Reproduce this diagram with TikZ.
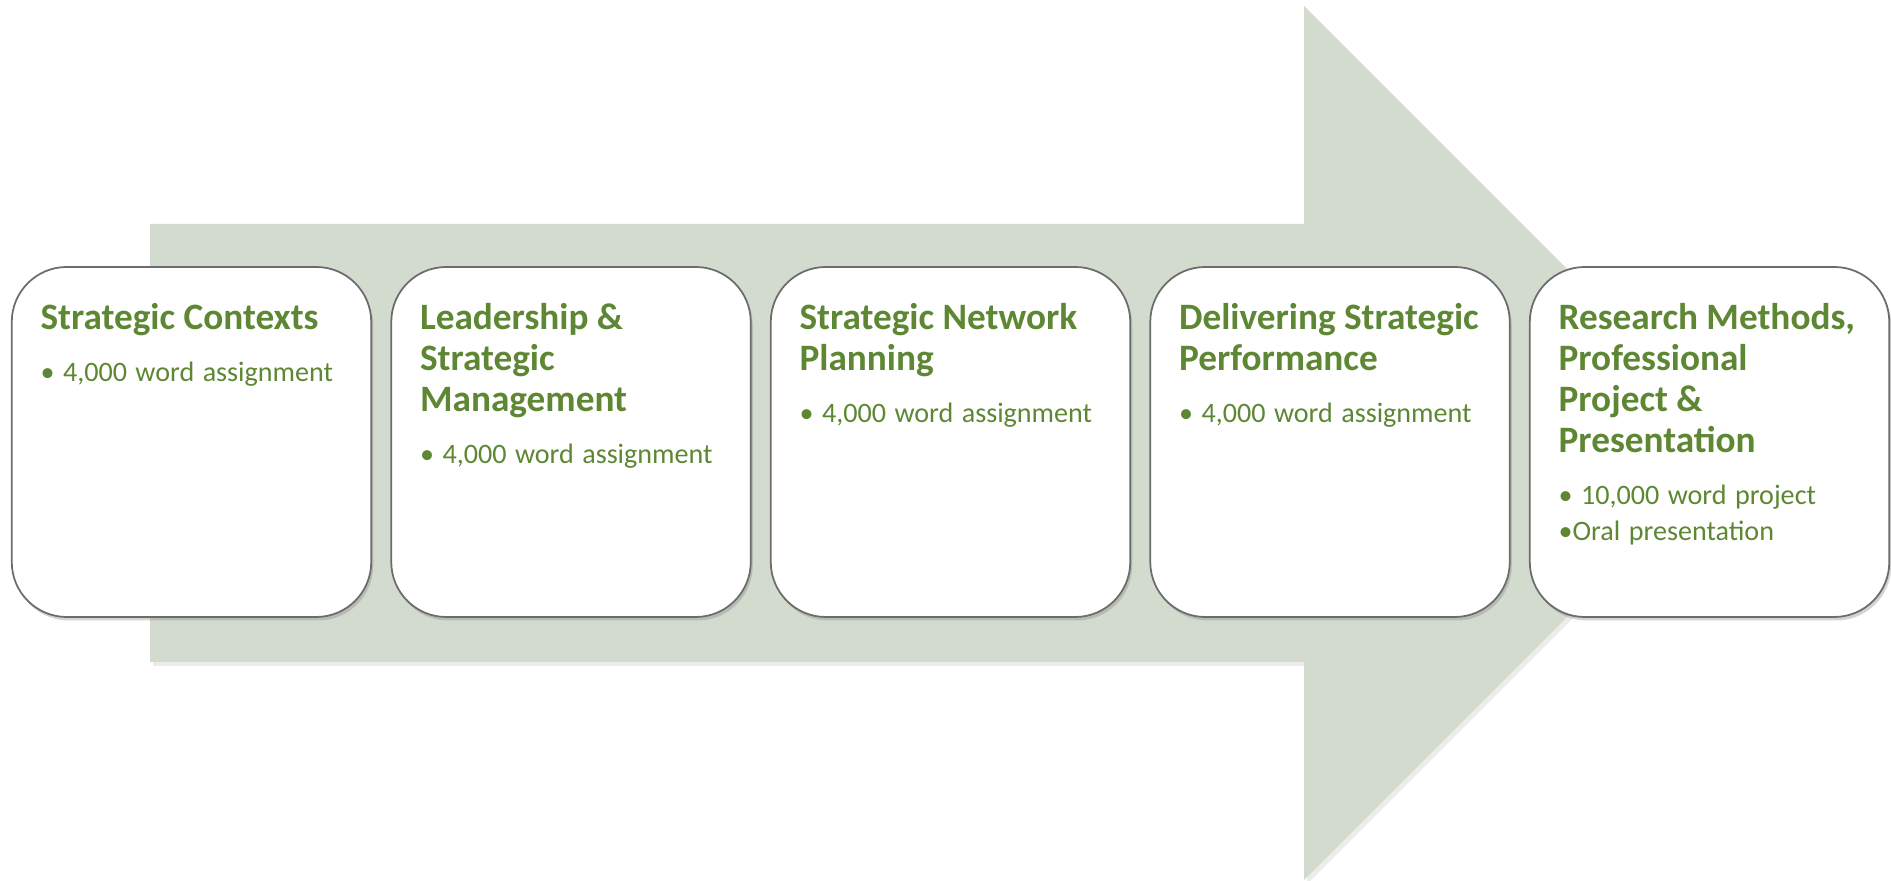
\documentclass[tikz,border=0pt]{standalone}
\usepackage{fontspec}
\setmainfont{Carlito}
\usetikzlibrary{positioning,shadows}

\definecolor{arrowgrey}{RGB}{211,219,207}
\definecolor{modgreen}{RGB}{94,135,51}

\newcommand{\modtitle}[1]{{\fontsize{10.6pt}{11.66pt}\selectfont\bfseries\strut #1\par}\vspace{4.6pt}}
\newcommand{\moditem}[1]{{\fontsize{8pt}{10.24pt}\selectfont\spaceskip=0.3em #1\par}}

\tikzset{
  modbox/.style={draw=gray!85!black, line width=0.5pt, fill=white, rounded corners=0.55cm,
    minimum width=3.595cm, minimum height=3.5cm, inner sep=0pt,
    drop shadow={shadow xshift=0.02cm, shadow yshift=-0.035cm, opacity=0.35}},
  modtext/.style={text width=3.3cm, align=flush left, inner sep=0pt, text=modgreen}
}

\begin{document}
\begin{tikzpicture}
    \useasboundingbox (0,0) rectangle (18.91,8.81);

    % big arrow behind the modules
    \fill[arrowgrey, drop shadow={shadow xshift=0.03cm, shadow yshift=-0.04cm, opacity=0.15}]
        (1.50,6.57) -- (13.04,6.57) -- (13.04,8.75) -- (17.41,4.38)
        -- (13.04,0.01) -- (13.04,2.19) -- (1.50,2.19) -- cycle;

    % module boxes
    \node[modbox] (box1) at (1.915,4.39) {};
    \node[modbox, right=0.1825cm of box1] (box2) {};
    \node[modbox, right=0.1825cm of box2] (box3) {};
    \node[modbox, right=0.1825cm of box3] (box4) {};
    \node[modbox, right=0.1825cm of box4] (box5) {};

    % texts
    \node[modtext, below right=0.337cm and 0.29cm of box1.north west] (txt1)
        {\modtitle{Strategic Contexts}\moditem{\textbullet\ 4,000 word assignment}};
    \node[modtext, below right=0.337cm and 0.29cm of box2.north west] (txt2)
        {\modtitle{Leadership \&\\Strategic\\Management}\moditem{\textbullet\ 4,000 word assignment}};
    \node[modtext, below right=0.337cm and 0.29cm of box3.north west] (txt3)
        {\modtitle{Strategic Network\\Planning}\moditem{\textbullet\ 4,000 word assignment}};
    \node[modtext, below right=0.337cm and 0.29cm of box4.north west] (txt4)
        {\modtitle{Delivering Strategic\\Performance}\moditem{\textbullet\ 4,000 word assignment}};
    \node[modtext, below right=0.337cm and 0.29cm of box5.north west] (txt5)
        {\modtitle{Research Methods,\\Professional\\Project \&\\Presentation}%
         \moditem{\textbullet\ 10,000 word project}\moditem{\textbullet Oral presentation}};

\end{tikzpicture}
\end{document}
